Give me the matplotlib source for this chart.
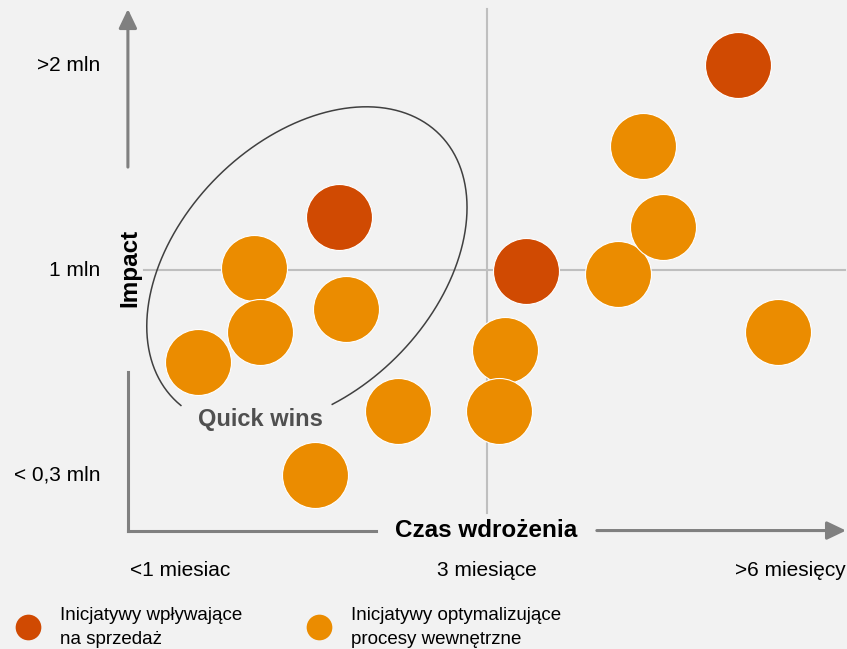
import numpy as np
import matplotlib
matplotlib.use("Agg")
import matplotlib.pyplot as plt
from matplotlib.lines import Line2D
from matplotlib import transforms as mtransforms

plt.rcParams['font.family'] = ['Liberation Sans', 'DejaVu Sans']

# axis categories (index positions 0, 1, 2)
x_labels = ["<1 miesiac", "3 miesiące", ">6 miesięcy"]
y_labels = ["< 0,3 mln", "1 mln", ">2 mln"]

# initiatives affecting sales (x: time to implement, y: impact)
sales_x = [1.82, 0.52, 1.13]
sales_y = [2.00, 1.26, 0.995]

# initiatives optimising internal processes
process_x = [1.51, 1.43, 1.575, 1.95, 0.24, 0.26, 0.54, 0.06, 1.06, 0.71, 1.04, 0.44]
process_y = [1.605, 0.98, 1.21, 0.70, 1.01, 0.70, 0.81, 0.55, 0.61, 0.31, 0.31, 0.0]

legend_labels = ["Inicjatywy wpływające\nna sprzedaż",
                 "Inicjatywy optymalizujące\nprocesy wewnętrzne"]

RED = "#D04A02"
ORANGE = "#EB8C00"
BG = "#F2F2F2"
ARROW = "#808080"
GRID = "#BFBFBF"

fig = plt.figure(figsize=(8.47, 6.49), dpi=100, facecolor=BG)
ax = fig.add_axes([0, 0, 1, 1])
ax.set_facecolor(BG)
ax.set_xlim(-0.5873, 2.1762)
ax.set_ylim(-0.8488, 2.3171)
ax.axis("off")

# reference lines
ax.plot([1, 1], [-0.185, 2.273], color=GRID, lw=1.5, zorder=1)
ax.plot([-0.117, 2.170], [1, 1], color=GRID, lw=1.5, zorder=1)

# axis arrows (with gaps for the titles)
ax.plot([-0.170, -0.170], [-0.271, 0.502], color=ARROW, lw=2.2, zorder=2)
ax.annotate("", xy=(-0.170, 2.273), xytext=(-0.170, 1.502),
            arrowprops=dict(arrowstyle="-|>,head_length=1.15,head_width=0.55",
                            color=ARROW, lw=2.2, shrinkA=0, shrinkB=0), zorder=2)
ax.plot([-0.170, 0.639], [-0.271, -0.271], color=ARROW, lw=2.2, zorder=2)
ax.annotate("", xy=(2.173, -0.271), xytext=(1.360, -0.271),
            arrowprops=dict(arrowstyle="-|>,head_length=1.15,head_width=0.55",
                            color=ARROW, lw=2.2, shrinkA=0, shrinkB=0), zorder=2)

# "Quick wins" ellipse, drawn in pixel offsets around its centre
a, b = 187.5, 127.0
t = np.deg2rad(np.linspace(245, 544, 400))
rot = np.deg2rad(45)
ex = a * np.cos(t) * np.cos(rot) - b * np.sin(t) * np.sin(rot)
ey = a * np.cos(t) * np.sin(rot) + b * np.sin(t) * np.cos(rot)
tr = mtransforms.Affine2D() + mtransforms.ScaledTranslation(0.414, 1.015, ax.transData)
ax.plot(ex, ey, color="#404040", lw=1.1, transform=tr, zorder=2)
ax.text(0.261, 0.273, "Quick wins", fontsize=17, fontweight="bold",
        color="#505050", ha="center", va="center")

# bubbles
ax.scatter(process_x, process_y, s=2257, color=ORANGE, edgecolors="white",
           linewidths=0.8, zorder=3)
ax.scatter(sales_x, sales_y, s=2257, color=RED, edgecolors="white",
           linewidths=0.8, zorder=3)

# tick labels
for i, lab in enumerate(y_labels):
    ax.text(-0.261, i, lab, fontsize=15, ha="right", va="center")
for i, lab in enumerate(x_labels):
    if i == len(x_labels) - 1:
        ax.text(2.172, -0.468, lab, fontsize=15, ha="right", va="center")
    else:
        ax.text(i, -0.468, lab, fontsize=15, ha="center", va="center")

# axis titles
ax.text(1.0, -0.273, "Czas wdrożenia", fontsize=17.5, fontweight="bold",
        ha="center", va="center")
ax.text(-0.163, 1.01, "Impact", fontsize=17.5, fontweight="bold",
        ha="center", va="center", rotation=90)

# legend
handles = [Line2D([], [], marker="o", linestyle="none", markersize=18.5,
                  markerfacecolor=c, markeredgecolor="none") for c in (RED, ORANGE)]
leg = ax.legend(handles, legend_labels, ncol=2, loc="center left",
                bbox_to_anchor=(15 / 847, 1 - 627.5 / 649), bbox_transform=fig.transFigure,
                frameon=False, fontsize=13.5, handlelength=1.4, handletextpad=1.0,
                columnspacing=3.4, borderpad=0, borderaxespad=0)
for txt in leg.get_texts():
    txt.set_linespacing(1.55)

fig.savefig("out.png", dpi=100, facecolor=BG)
